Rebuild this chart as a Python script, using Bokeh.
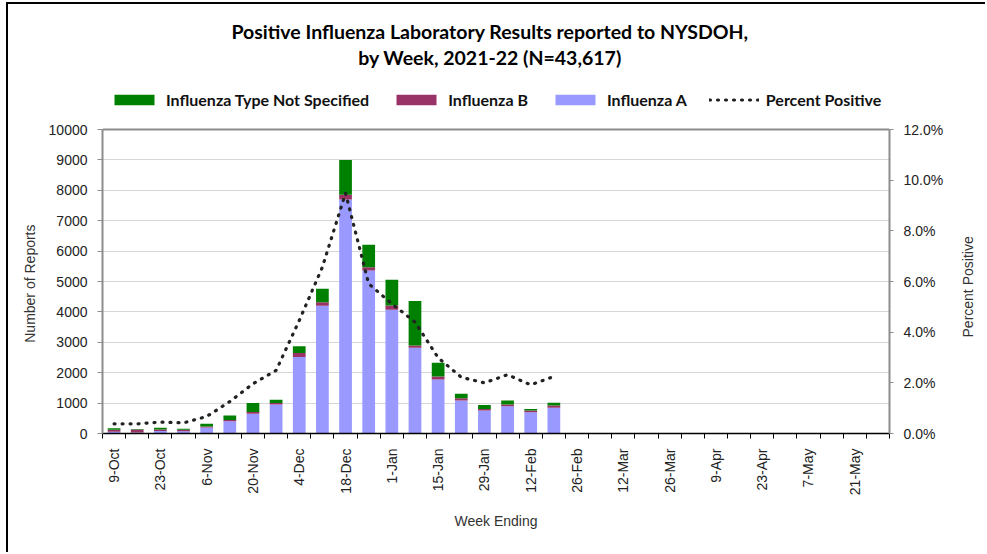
import math
from bokeh.plotting import figure
from bokeh.models import (Range1d, LinearAxis, FixedTicker, Legend, LegendItem,
                          Label, Span, PrintfTickFormatter, ColumnDataSource)
from bokeh.embed import file_html
from bokeh.resources import INLINE

weeks = ["9-Oct", "16-Oct", "23-Oct", "30-Oct", "6-Nov", "13-Nov", "20-Nov", "27-Nov",
         "4-Dec", "11-Dec", "18-Dec", "25-Dec", "1-Jan", "8-Jan", "15-Jan", "22-Jan",
         "29-Jan", "5-Feb", "12-Feb", "19-Feb", "26-Feb", "5-Mar", "12-Mar", "19-Mar",
         "26-Mar", "2-Apr", "9-Apr", "16-Apr", "23-Apr", "30-Apr", "7-May", "14-May",
         "21-May", "28-May"]

flu_a = [60, 30, 80, 70, 200, 400, 650, 950, 2520, 4200, 7700, 5360, 4070, 2820,
         1775, 1085, 760, 900, 700, 845] + [0] * 14
flu_b = [60, 100, 50, 50, 30, 40, 60, 50, 130, 120, 150, 110, 140, 75,
         100, 75, 50, 55, 55, 75] + [0] * 14
flu_ns = [50, 20, 60, 40, 90, 150, 290, 110, 220, 440, 1150, 740, 845, 1460,
          450, 145, 130, 130, 55, 90] + [0] * 14
pct_positive = [0.38, 0.38, 0.45, 0.42, 0.67, 1.26, 1.96, 2.49, 4.46, 6.57, 9.49,
                5.91, 5.12, 4.40, 2.99, 2.22, 2.00, 2.32, 1.92, 2.25]

y_ticks = list(range(0, 10001, 1000))
pct_ticks = [0, 2, 4, 6, 8, 10, 12]
Y_TOP = 10000
PCT_TOP = 12

title_line1 = "Positive Influenza Laboratory Results reported to NYSDOH,"
title_line2 = "by Week, 2021-22 (N=43,617)"
left_label = "Number of Reports"
right_label = "Percent Positive"
bottom_label = "Week Ending"

C_A = "#9999FF"
C_B = "#993366"
C_NS = "#008000"

TICK_FONT = "Liberation Sans"
HEAD_FONT = "Lato"

# ---- layout (page pixels) ----
PAGE_W, PAGE_H = 987, 554
OX, OY = 8, 4                          # where the figure content starts (after border)
W, H = PAGE_W - OX, PAGE_H - OY
FRAME_LEFT, FRAME_RIGHT = 102, 890
FRAME_TOP, FRAME_BOTTOM = 6, 433      # frame extends up to hold title + legend
PLOT_TOP = 129                         # pixel row of the 10000 / 12.0% line


def y_at(px):
    return Y_TOP * (FRAME_BOTTOM - px) / (FRAME_BOTTOM - PLOT_TOP)


y_max = y_at(FRAME_TOP)
pct_max = PCT_TOP * y_max / Y_TOP
n = len(weeks)
px_per_x = (FRAME_RIGHT - FRAME_LEFT) / n


def x_at(px):
    return -0.5 + (px - FRAME_LEFT) / px_per_x


xs = list(range(n))
src = ColumnDataSource(dict(x=xs, a=flu_a, b=flu_b, ns=flu_ns))

p = figure(width=W, height=H, output_backend="svg", toolbar_location=None,
           x_range=Range1d(-0.5, n - 0.5), y_range=Range1d(0, y_max),
           min_border_left=FRAME_LEFT - OX, min_border_right=PAGE_W - FRAME_RIGHT,
           min_border_top=FRAME_TOP - OY, min_border_bottom=PAGE_H - FRAME_BOTTOM,
           title=None)
p.styles = {"border-top": "2px solid #000000", "border-left": "2px solid #000000",
            "margin-left": "6px", "margin-top": "2px"}
p.extra_y_ranges = {"pct": Range1d(0, pct_max)}

bars = p.vbar_stack(["a", "b", "ns"], x="x", width=0.55, color=[C_A, C_B, C_NS],
                    line_color=None, source=src)

line = p.line(xs[:len(pct_positive)], pct_positive, y_range_name="pct",
              line_color="#222222", line_width=3.2, line_dash="1 7", line_cap="round")

# frame & grid
p.outline_line_color = None
p.xgrid.visible = False
p.ygrid.grid_line_color = "#d6d6d6"
p.ygrid.grid_line_width = 1
p.ygrid.ticker = FixedTicker(ticks=y_ticks)
p.add_layout(Span(location=Y_TOP, dimension="width", line_color="#8c8c8c", line_width=2))


def style_ticks(ax):
    ax.major_label_text_font = TICK_FONT
    ax.major_label_text_font_size = "14px"
    ax.major_label_text_color = "#222222"


# left axis
ya = p.yaxis[0]
ya.bounds = (0, Y_TOP)
ya.ticker = FixedTicker(ticks=y_ticks)
ya.axis_line_color = "#8c8c8c"
ya.axis_line_width = 2
ya.major_tick_line_color = "#8c8c8c"
ya.major_tick_out = 5
ya.major_tick_in = 0
ya.minor_tick_line_color = None
style_ticks(ya)
ya.major_label_standoff = 10

# right axis
ra = LinearAxis(y_range_name="pct", ticker=FixedTicker(ticks=pct_ticks),
                formatter=PrintfTickFormatter(format="%.1f%%"))
ra.bounds = (0, PCT_TOP)
ra.axis_line_color = "#8c8c8c"
ra.axis_line_width = 2
ra.major_tick_line_color = "#8c8c8c"
ra.major_tick_out = 4
ra.major_tick_in = 0
ra.minor_tick_line_color = None
style_ticks(ra)
ra.major_label_standoff = 10
p.add_layout(ra, "right")


# side titles drawn as single rotated tick labels of label-only axes
def label_axis(text, tick_px, standoff):
    tick = int(round(y_at(tick_px)))
    ax = LinearAxis(ticker=FixedTicker(ticks=[tick]))
    ax.major_label_overrides = {tick: text}
    ax.major_label_orientation = math.pi / 2
    ax.axis_line_color = None
    ax.major_tick_line_color = None
    ax.minor_tick_line_color = None
    ax.major_label_text_font = TICK_FONT
    ax.major_label_text_font_size = "14px"
    ax.major_label_text_color = "#333333"
    ax.major_label_standoff = standoff
    return ax


p.add_layout(label_axis(left_label, 224, 10), "left")
p.add_layout(label_axis(right_label, 337, 16), "right")

# x axis
xa = p.xaxis[0]
label_idx = list(range(0, n, 2))
xa.ticker = FixedTicker(ticks=label_idx, minor_ticks=[i - 0.5 for i in range(n + 1)])
xa.major_label_overrides = {i: weeks[i] for i in label_idx}
xa.major_label_orientation = math.pi / 2
xa.major_tick_line_color = None
xa.minor_tick_line_color = "#000000"
xa.minor_tick_out = 5
xa.minor_tick_in = 0
xa.axis_line_color = "#000000"
xa.axis_line_width = 1.5
style_ticks(xa)
xa.major_label_standoff = 9
xa.axis_label = bottom_label
xa.axis_label_text_font = TICK_FONT
xa.axis_label_text_font_size = "14px"
xa.axis_label_text_font_style = "normal"
xa.axis_label_text_color = "#333333"
xa.axis_label_standoff = 15

# legend (inside the extended frame, above the plotting area)
legend = Legend(items=[
    LegendItem(label="Influenza Type Not Specified", renderers=[bars[2]]),
    LegendItem(label="Influenza B", renderers=[bars[1]]),
    LegendItem(label="Influenza A", renderers=[bars[0]]),
    LegendItem(label="Percent Positive", renderers=[line]),
], orientation="horizontal", location=(2, FRAME_BOTTOM - 114))
legend.glyph_width = 50
legend.glyph_height = 13
legend.label_standoff = 7
legend.spacing = 22
legend.label_height = 20
legend.label_text_font = HEAD_FONT
legend.label_text_font_style = "bold"
legend.label_text_font_size = "16px"
legend.label_text_color = "#111111"
legend.border_line_alpha = 0
legend.background_fill_alpha = 0
legend.margin = 0
legend.padding = 5
p.add_layout(legend, "center")

# two-line title
for txt, py in [(title_line1, 31), (title_line2, 57)]:
    p.add_layout(Label(x=x_at(490), y=y_at(py), text=txt, text_align="center",
                       text_baseline="middle", text_font=HEAD_FONT,
                       text_font_size="19.5px", text_font_style="bold",
                       text_color="#000000"))

open("out.html", "w").write(file_html(p, INLINE))
